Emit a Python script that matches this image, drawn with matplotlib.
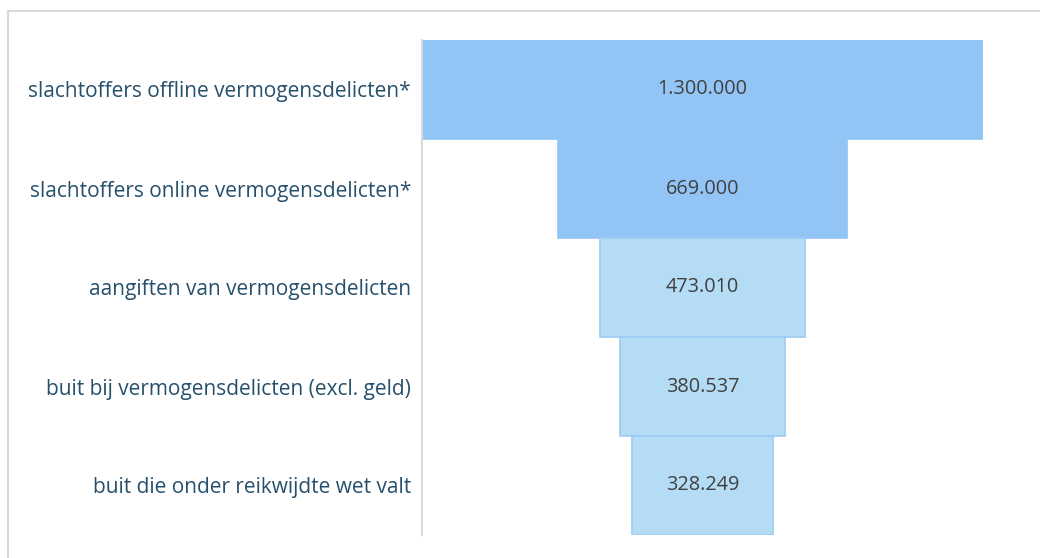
import matplotlib
matplotlib.use("Agg")
import matplotlib.pyplot as plt
from matplotlib.lines import Line2D

# gegevens
categorieen = [
    "slachtoffers offline vermogensdelicten*",
    "slachtoffers online vermogensdelicten*",
    "aangiften van vermogensdelicten",
    "buit bij vermogensdelicten (excl. geld)",
    "buit die onder reikwijdte wet valt",
]
waarden = [1300000, 669000, 473010, 380537, 328249]
labels = ["1.300.000", "669.000", "473.010", "380.537", "328.249"]
kleuren = ["#92C5F5", "#92C5F5", "#B4DCF4", "#B4DCF4", "#B4DCF4"]
randen = ["#92C5F5", "#92C5F5", "#9DCBF4", "#9DCBF4", "#9DCBF4"]

plt.rcParams['font.family'] = ['Open Sans', 'DejaVu Sans']

W, H = 1040, 558
fig = plt.figure(figsize=(W / 100, H / 100), dpi=100)
ax = fig.add_axes([422 / W, 1 - 535 / H, 561 / W, 495 / H])

pos = list(range(len(waarden)))
lefts = [-v / 2 for v in waarden]
ax.barh(pos, waarden, left=lefts, height=1.0, color=kleuren,
        edgecolor=randen, linewidth=1.2)

for p, t in zip(pos, labels):
    ax.text(0, p, t, ha="center", va="center", fontsize=14.3, color="#404040")

ax.set_xlim(-waarden[0] / 2, waarden[0] / 2)
ax.set_ylim(len(waarden) - 0.5, -0.5)
ax.set_xticks([])
ax.set_yticks(pos)
ax.set_yticklabels(categorieen, fontsize=15, color="#27506C")
ax.tick_params(axis="y", length=0, pad=8)
for s in ["top", "right", "bottom"]:
    ax.spines[s].set_visible(False)
ax.spines["left"].set_color("#D9D9D9")
ax.spines["left"].set_linewidth(1.5)
ax.set_zorder(1)

# lichtgrijze rand om de figuur (boven en links)
fig.add_artist(Line2D([8 / W, 1], [1 - 11 / H, 1 - 11 / H], color="#D9D9D9", lw=1.5))
fig.add_artist(Line2D([8 / W, 8 / W], [0, 1 - 11 / H], color="#D9D9D9", lw=1.5))

fig.savefig("out.png", dpi=100, facecolor="white")
